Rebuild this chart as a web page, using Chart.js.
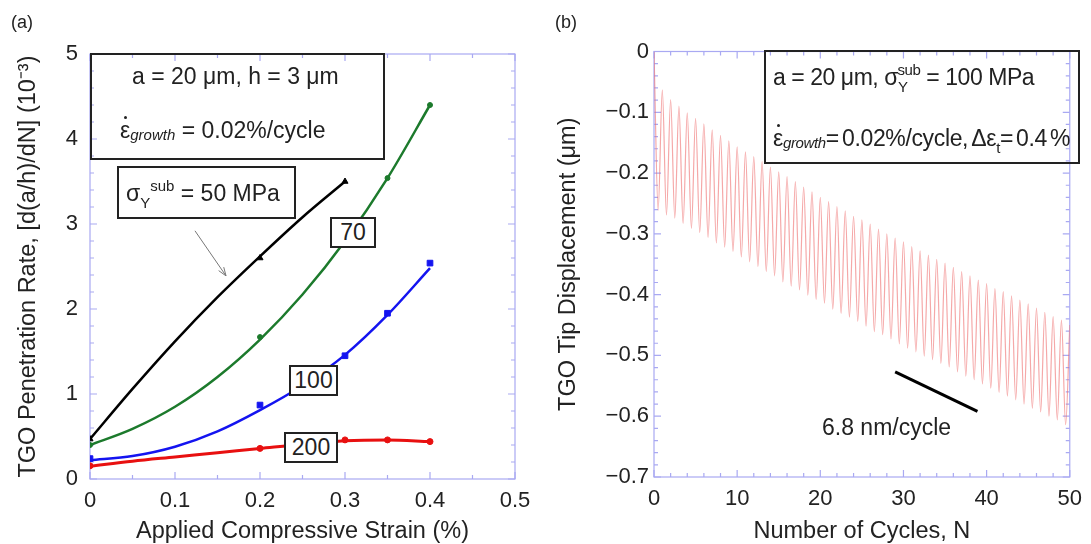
<!DOCTYPE html>
<html>
<head>
<meta charset="utf-8">
<script src="https://cdn.jsdelivr.net/npm/chart.js@4.4.0/dist/chart.umd.min.js"></script>
<style>
body { margin: 0; background: #fff; font-family: "Liberation Sans", Arial, sans-serif; color: #222; }
#wrap { position: relative; width: 1091px; height: 544px; overflow: hidden; }
canvas { position: absolute; top: 0; }
#chartA { left: 0; }
#chartB { left: 545px; }
.txt { position: absolute; white-space: nowrap; font-size: 23px; line-height: 23px; }
.box { position: absolute; border: 2px solid #222; box-sizing: border-box; }
.lbl { position: absolute; border: 2px solid #222; box-sizing: border-box; background: #fff;
       font-size: 23px; display: flex; align-items: center; justify-content: center; }
.eps { position: relative; }
.eps .dot { position: absolute; left: 4px; top: -1px; width: 3px; height: 3px; border-radius: 50%; background: #222; }
.gr { font-size: 15px; font-style: italic; position: relative; top: 2px; }
.lo { font-size: 15px; position: relative; top: 7px; }
.hi { font-size: 15px; position: relative; top: -10px; }
.panel { position: absolute; font-size: 18px; top: 12px; }
</style>
</head>
<body>
<div id="wrap">
  <canvas id="chartA" width="545" height="544"></canvas>
  <canvas id="chartB" width="546" height="544"></canvas>

  <div class="panel" style="left:11px;">(a)</div>
  <div class="panel" style="left:555px;">(b)</div>

  <!-- panel a notes -->
  <div class="box" style="left:90px; top:53px; width:295px; height:107px;"></div>
  <div class="txt" style="left:132px; top:65px;">a = 20 μm, h = 3 μm</div>
  <div class="txt" style="left:120px; top:119px;"><span class="eps">ε<span class="dot"></span></span><span class="gr">growth</span> = 0.02%/cycle</div>

  <div class="box" style="left:117px; top:166px; width:179px; height:53px;"></div>
  <div class="txt" style="left:126px; top:182px;">σ<span class="lo">Y</span><span class="hi">sub</span> = 50 MPa</div>

  <div class="lbl" style="left:330px; top:217px; width:46px; height:31px;">70</div>
  <div class="lbl" style="left:289px; top:365px; width:49px; height:31px;">100</div>
  <div class="lbl" style="left:284px; top:432px; width:54px; height:31px;">200</div>

  <!-- panel b notes -->
  <div class="box" style="left:764px; top:50px; width:316px; height:114px;"></div>
  <div class="txt" style="left:773px; top:66px; letter-spacing:-0.45px;">a = 20 μm, σ<span class="lo">Y</span><span class="hi" style="margin-left:-10px;">sub</span> = 100 MPa</div>
  <div class="txt" style="left:773px; top:127px; word-spacing:-3px; letter-spacing:-0.35px;"><span class="eps">ε<span class="dot"></span></span><span class="gr">growth</span>= 0.02%/cycle, Δε<span class="lo">t</span>= 0.4 %</div>
  <div class="txt" style="left:822px; top:416px;">6.8 nm/cycle</div>
</div>

<script>
// panel (a): penetration rate vs applied strain
// computed points (markers)
const strain50 = [0, 0.2, 0.3];
const rate50 = [0.47, 2.6, 3.5];
const strain70 = [0, 0.2, 0.35, 0.4];
const rate70 = [0.40, 1.67, 3.54, 4.40];
const strain100 = [0, 0.2, 0.3, 0.35, 0.4];
const rate100 = [0.24, 0.87, 1.45, 1.95, 2.54];
const strain200 = [0, 0.2, 0.3, 0.35, 0.4];
const rate200 = [0.155, 0.36, 0.46, 0.46, 0.44];
// fitted curves, read every 0.05
const fitStrain = [0, 0.05, 0.1, 0.15, 0.2, 0.25, 0.3, 0.35, 0.4];
const fit50 = [0.47, 1.06, 1.62, 2.14, 2.62, 3.08, 3.50];
const fit70 = [0.40, 0.59, 0.85, 1.20, 1.64, 2.17, 2.80, 3.54, 4.40];
const fit100 = [0.22, 0.27, 0.38, 0.56, 0.81, 1.10, 1.46, 1.93, 2.48];
const fit200 = [0.15, 0.21, 0.26, 0.31, 0.36, 0.41, 0.45, 0.46, 0.44];
const strainTicks = [0, 0.1, 0.2, 0.3, 0.4, 0.5];
const rateTicks = [0, 1, 2, 3, 4, 5];
// arrow pointing at the 50 MPa curve (data coords)
const arrowFrom = [0.1235, 2.92];
const arrowTo = [0.16, 2.39];

// panel (b): tip displacement vs cycles
const startDisp = 0;
// troughs at N = 0.5, 1.5, ... 49.5
const troughDisp = [
  -0.261, -0.269, -0.274, -0.283, -0.291, -0.298, -0.306, -0.315, -0.322, -0.329,
  -0.338, -0.346, -0.354, -0.362, -0.369, -0.379, -0.386, -0.392, -0.401, -0.408,
  -0.414, -0.424, -0.431, -0.437, -0.444, -0.452, -0.461, -0.466, -0.473, -0.481,
  -0.488, -0.494, -0.501, -0.507, -0.513, -0.519, -0.527, -0.534, -0.540, -0.547,
  -0.554, -0.561, -0.567, -0.573, -0.580, -0.587, -0.593, -0.600, -0.606, -0.614
];
// peaks at N = 1, 2, ... 49
const peakDisp = [
  -0.063, -0.079, -0.090, -0.101, -0.110, -0.119, -0.129, -0.138, -0.147, -0.157,
  -0.165, -0.173, -0.181, -0.190, -0.198, -0.206, -0.214, -0.223, -0.231, -0.240,
  -0.247, -0.255, -0.262, -0.271, -0.277, -0.284, -0.292, -0.300, -0.307, -0.313,
  -0.321, -0.328, -0.335, -0.342, -0.348, -0.355, -0.362, -0.369, -0.376, -0.382,
  -0.390, -0.395, -0.402, -0.409, -0.415, -0.422, -0.429, -0.436, -0.442
];
const endDisp = -0.45;
const cycleTicks = [0, 10, 20, 30, 40, 50];
const dispTicks = [0, -0.1, -0.2, -0.3, -0.4, -0.5, -0.6, -0.7];
const slopeN = [29.0, 38.9];
const slopeDisp = [-0.527, -0.592];

Chart.defaults.font.family = '"Liberation Sans", Arial, sans-serif';
Chart.defaults.color = '#222';

const frameColor = '#a9a9f2';

function pts(xs, ys) {
    return ys.map((y, i) => ({ x: xs[i], y: y }));
}

// frame + inward ticks on all four sides
const frameTicks = {
    id: 'frameTicks',
    beforeDatasetsDraw(chart, args, o) {
        const { ctx, chartArea: a } = chart;
        const sx = chart.scales.x, sy = chart.scales.y;
        ctx.save();
        ctx.strokeStyle = frameColor;
        ctx.lineWidth = 1.2;
        ctx.beginPath();
        const nx = Math.round((sx.max - sx.min) / o.xMinor);
        const ex = Math.round(o.xMajor / o.xMinor);
        for (let i = 0; i <= nx; i++) {
            const px = sx.getPixelForValue(sx.min + i * o.xMinor);
            const len = i % ex === 0 ? 7 : 4;
            ctx.moveTo(px, a.bottom); ctx.lineTo(px, a.bottom - len);
            ctx.moveTo(px, a.top); ctx.lineTo(px, a.top + len);
        }
        const ny = Math.round((sy.max - sy.min) / o.yMinor);
        const ey = Math.round(o.yMajor / o.yMinor);
        for (let i = 0; i <= ny; i++) {
            const py = sy.getPixelForValue(sy.min + i * o.yMinor);
            const len = i % ey === 0 ? 7 : 4;
            ctx.moveTo(a.left, py); ctx.lineTo(a.left + len, py);
            ctx.moveTo(a.right, py); ctx.lineTo(a.right - len, py);
        }
        ctx.stroke();
        ctx.strokeRect(a.left, a.top, a.right - a.left, a.bottom - a.top);
        ctx.restore();
    }
};

const arrowPlugin = {
    id: 'arrowPlugin',
    afterDatasetsDraw(chart) {
        const { ctx } = chart;
        const sx = chart.scales.x, sy = chart.scales.y;
        const x0 = sx.getPixelForValue(arrowFrom[0]), y0 = sy.getPixelForValue(arrowFrom[1]);
        const x1 = sx.getPixelForValue(arrowTo[0]), y1 = sy.getPixelForValue(arrowTo[1]);
        const ang = Math.atan2(y1 - y0, x1 - x0);
        ctx.save();
        ctx.strokeStyle = '#777';
        ctx.lineWidth = 1;
        ctx.beginPath();
        ctx.moveTo(x0, y0); ctx.lineTo(x1, y1);
        ctx.moveTo(x1, y1); ctx.lineTo(x1 - 9 * Math.cos(ang - 0.35), y1 - 9 * Math.sin(ang - 0.35));
        ctx.moveTo(x1, y1); ctx.lineTo(x1 - 9 * Math.cos(ang + 0.35), y1 - 9 * Math.sin(ang + 0.35));
        ctx.stroke();
        ctx.restore();
    }
};

function axis(min, max, tickVals, fmt, fitProp, fitSize, tickPad, title, titlePad) {
    return {
        type: 'linear', min: min, max: max,
        grid: { display: false, drawTicks: false },
        border: { display: false },
        afterBuildTicks: s => { s.ticks = tickVals.map(v => ({ value: v })); },
        afterFit: s => { s[fitProp] = fitSize; },
        ticks: { padding: tickPad, font: { size: 22 }, color: '#222', callback: fmt },
        title: { display: true, text: title, font: { size: 23.5, lineHeight: 1.1 }, color: '#222', padding: titlePad }
    };
}

function fitLine(ys, color, width) {
    return { data: pts(fitStrain, ys), borderColor: color, borderWidth: width,
             pointRadius: 0, cubicInterpolationMode: 'monotone' };
}
function markers(xs, ys, color, style, r) {
    return { data: pts(xs, ys), showLine: false, backgroundColor: color, borderColor: color,
             pointStyle: style, pointRadius: r };
}

new Chart(document.getElementById('chartA'), {
    type: 'line',
    data: {
        datasets: [
            fitLine(fit50, '#000', 2.5),
            fitLine(fit70, '#1c7a2c', 2.5),
            fitLine(fit100, '#1414f0', 2.5),
            fitLine(fit200, '#e81010', 3),
            markers(strain50, rate50, '#000', 'triangle', 3.5),
            markers(strain70, rate70, '#1c7a2c', 'circle', 2.5),
            markers(strain100, rate100, '#1414f0', 'rect', 4),
            markers(strain200, rate200, '#e81010', 'circle', 3)
        ]
    },
    options: {
        responsive: false,
        animation: false,
        events: [],
        layout: { padding: { left: 0, top: 54, right: 30, bottom: 0 } },
        plugins: {
            legend: { display: false },
            tooltip: { enabled: false },
            frameTicks: { xMajor: 0.1, xMinor: 0.05, yMajor: 1, yMinor: 0.2 }
        },
        scales: {
            x: axis(0, 0.5, strainTicks, v => String(v), 'height', 65, 9,
                'Applied Compressive Strain (%)', { top: 0, bottom: 0 }),
            y: axis(0, 5, rateTicks, v => String(v), 'width', 90, 12,
                'TGO Penetration Rate, [d(a/h)/dN] (10\u207B\u00B3)', { top: 16, bottom: 0 })
        }
    },
    plugins: [frameTicks, arrowPlugin]
});

// build the oscillating trace from the read peaks and troughs
const oscPoints = [{ x: 0, y: startDisp }];
troughDisp.forEach((v, i) => {
    oscPoints.push({ x: i + 0.5, y: v });
    if (i < peakDisp.length) oscPoints.push({ x: i + 1, y: peakDisp[i] });
});
oscPoints.push({ x: 50, y: endDisp });

new Chart(document.getElementById('chartB'), {
    type: 'line',
    data: {
        datasets: [
            { data: oscPoints, borderColor: 'rgba(238, 110, 110, 0.6)', borderWidth: 1.2,
              pointRadius: 0, cubicInterpolationMode: 'monotone' },
            { data: pts(slopeN, slopeDisp), borderColor: '#000', borderWidth: 3, pointRadius: 0 }
        ]
    },
    options: {
        responsive: false,
        animation: false,
        events: [],
        layout: { padding: { left: 0, top: 51.5, right: 12.6, bottom: 0 } },
        plugins: {
            legend: { display: false },
            tooltip: { enabled: false },
            frameTicks: { xMajor: 10, xMinor: 2, yMajor: 0.1, yMinor: 0.02 }
        },
        scales: {
            x: axis(0, 50, cycleTicks, v => String(v), 'height', 67, 9,
                'Number of Cycles, N', { top: 0, bottom: 0 }),
            y: axis(-0.7, 0, dispTicks, v => (v === 0 ? '0' : '\u2212' + Math.abs(v).toFixed(1)), 'width', 109, 5,
                'TGO Tip Displacement (μm)', { top: 11, bottom: 0 })
        }
    },
    plugins: [frameTicks]
});
</script>
</body>
</html>
